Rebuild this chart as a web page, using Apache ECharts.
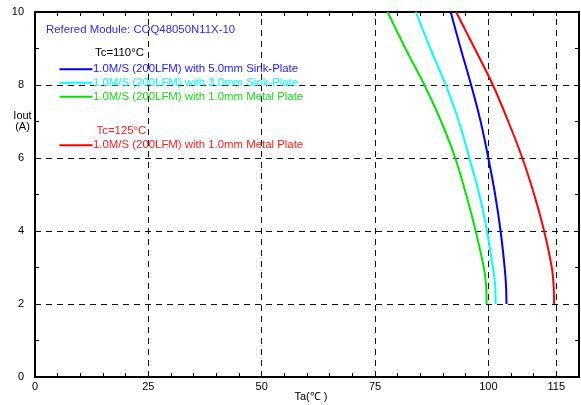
<!DOCTYPE html>
<html>
<head>
<meta charset="utf-8">
<script src="https://cdn.jsdelivr.net/npm/echarts@6/dist/echarts.min.js"></script>
<style>html,body{margin:0;padding:0;background:#fff}#c{width:581px;height:405px}</style>
</head>
<body>
<div id="c"></div>
<script>
// Output current (A) levels
const iout = [2, 2.5, 3, 4, 5, 6, 7, 8, 9, 10];
// Ambient temperature (°C) for each curve at the iout levels
const taBlue5mm  = [104.0, 103.9, 103.6, 102.7, 101.5, 100.0, 98.3, 96.2, 93.9, 91.7];
const taCyan3mm  = [101.6, 101.5, 101.0, 99.7, 98.0, 95.8, 93.5, 90.6, 87.2, 84.0];
const taGreen1mm = [99.6, 99.5, 99.0, 97.2, 95.1, 92.7, 89.6, 85.9, 81.7, 77.8];
const taRed1mm   = [114.5, 114.4, 114.0, 112.3, 110.1, 107.5, 104.4, 101.0, 97.0, 92.9];

const xLabelTicks = [0, 25, 50, 75, 100, 115];
const xGridLines = [25, 50, 75, 100, 115];
const yGridLines = [2, 4, 6, 8];
const yLabelTicks = [0, 2, 4, 6, 8, 10];

const names = [
  '1.0M/S (200LFM) with 5.0mm Sink-Plate',
  '1.0M/S (200LFM) with 3.0mm Sink-Plate',
  '1.0M/S (200LFM) with 1.0mm Metal Plate',
  '1.0M/S (200LFM) with 1.0mm Metal Plate '
];
const lineColors = ['#0000ff', '#00ffff', '#00e600', '#ff0000'];
const textColors = ['#1a1aff', '#00ffff', '#16dc16', '#ff1a1a'];
const tas = [taBlue5mm, taCyan3mm, taGreen1mm, taRed1mm];

const FONT = 'Liberation Sans, Arial, sans-serif';
const TXT = '11.4px ' + FONT;
const chart = echarts.init(document.getElementById('c'), null, {renderer: 'canvas'});

const gridLineData = xGridLines.map(v => ({xAxis: v})).concat(yGridLines.map(v => ({yAxis: v})));

const series = tas.map((ta, i) => ({
  type: 'line',
  name: names[i],
  data: iout.map((y, k) => [ta[k], y]),
  smooth: 0.35,
  showSymbol: false,
  lineStyle: {color: lineColors[i], width: 2},
  itemStyle: {color: lineColors[i]},
  z: 5,
  silent: true,
  markLine: i === 0 ? {
    silent: true,
    symbol: ['none', 'none'],
    label: {show: false},
    lineStyle: {color: '#111', width: 1, type: [6, 5]},
    emphasis: {disabled: true},
    data: gridLineData,
    z: 1
  } : undefined
}));

const legendY = [69.3, 82.7, 96.7, 145.3];
const graphics = [];
legendY.forEach((y, i) => {
  graphics.push({type: 'line', shape: {x1: 59.5, y1: y, x2: 92.5, y2: y}, style: {stroke: lineColors[i], lineWidth: 2}, z: 10});
  graphics.push({type: 'text', x: 93, y: y, style: {text: names[i].trim(), fill: textColors[i], font: TXT, textVerticalAlign: 'middle', textAlign: 'left'}, z: 11});
});
graphics.push({type: 'text', x: 46, y: 30, style: {text: 'Refered Module: COQ48050N11X-10', fill: '#2a2aff', font: TXT, textVerticalAlign: 'middle'}, z: 11});
graphics.push({type: 'text', x: 95, y: 53, style: {text: 'Tc=110°C', fill: '#000', font: TXT, textVerticalAlign: 'middle'}, z: 11});
graphics.push({type: 'text', x: 96.5, y: 131, style: {text: 'Tc=125°C', fill: '#ff1a1a', font: TXT, textVerticalAlign: 'middle'}, z: 11});
graphics.push({type: 'text', x: 22.5, y: 116, style: {text: 'Iout', fill: '#000', font: '11px ' + FONT, textVerticalAlign: 'middle', textAlign: 'center'}, z: 11});
graphics.push({type: 'text', x: 22.5, y: 127, style: {text: '(A)', fill: '#000', font: '11px ' + FONT, textVerticalAlign: 'middle', textAlign: 'center'}, z: 11});
graphics.push({type: 'text', x: 311, y: 397, style: {text: 'Ta(℃ )', fill: '#000', font: '11px ' + FONT, textVerticalAlign: 'middle', textAlign: 'center'}, z: 11});

const axisCommon = {
  type: 'value',
  axisLine: {show: true, onZero: false, lineStyle: {color: '#000', width: 2}},
  axisTick: {show: true, inside: true, length: 4, lineStyle: {color: '#000', width: 1}},
  splitLine: {show: false}
};

chart.setOption({
  animation: false,
  backgroundColor: '#fff',
  grid: {left: 35, right: 2, top: 12, bottom: 28, containLabel: false},
  xAxis: [
    Object.assign({}, axisCommon, {
      min: 0, max: 120, interval: 5, position: 'bottom',
      axisLabel: {
        show: true, margin: 4, color: '#000', fontSize: 11, fontFamily: FONT,
        showMaxLabel: false,
        formatter: v => xLabelTicks.includes(v) ? String(v) : ''
      }
    }),
    Object.assign({}, axisCommon, {
      min: 0, max: 120, interval: 5, position: 'top',
      axisLabel: {show: false}
    })
  ],
  yAxis: [
    Object.assign({}, axisCommon, {
      min: 0, max: 10, interval: 1, position: 'left',
      axisLabel: {
        show: true, margin: 11, color: '#000', fontSize: 11, fontFamily: FONT,
        formatter: v => yLabelTicks.includes(v) ? String(v) : ''
      }
    }),
    Object.assign({}, axisCommon, {
      min: 0, max: 10, interval: 1, position: 'right',
      axisLabel: {show: false}
    })
  ],
  series: series,
  graphic: graphics
});
</script>
</body>
</html>
